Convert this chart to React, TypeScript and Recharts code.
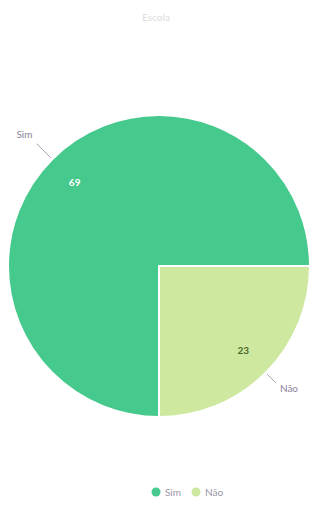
import React from 'react';
import { PieChart, Pie, Cell, Legend } from 'recharts';

const categories = ['Sim', 'Não'];
const values = [69, 23];
const colors = ['#45c98c', '#cfe8a0'];
const title = 'Escola';

const data = categories.map((name, i) => ({ name, value: values[i] }));

const RAD = Math.PI / 180;

const renderLabel = (props: any) => {
  const { cx, cy, midAngle, outerRadius, value, name, index } = props;
  const cos = Math.cos(-midAngle * RAD);
  const sin = Math.sin(-midAngle * RAD);
  const ir = outerRadius * 0.79;
  const ix = cx + ir * cos;
  const iy = cy + ir * sin;
  const sx = cx + (outerRadius + 2) * cos;
  const sy = cy + (outerRadius + 2) * sin;
  const lineR = index === 0 ? 22 : 14;
  const ex = cx + (outerRadius + lineR) * cos;
  const ey = cy + (outerRadius + lineR) * sin;
  const tx = cx + (outerRadius + lineR + 6) * cos;
  const ty = cy + (outerRadius + lineR + 8) * sin + (index === 0 ? -4 : 0);
  const anchor = cos >= 0 ? 'start' : 'end';
  return (
    <g>
      <text x={ix} y={iy} textAnchor="middle" dominantBaseline="central"
        fill={index === 0 ? '#ffffff' : '#4a6a2a'} fontSize={10} fontWeight="bold"
        fontFamily="Lato, sans-serif">{value}</text>
      <path d={`M${sx},${sy}L${ex},${ey}`} stroke="#a9a0b8" strokeWidth={1} fill="none" />
      <text x={tx} y={ty} textAnchor={anchor} dominantBaseline="central"
        fill="#8a8296" fontSize={10} fontFamily="Lato, sans-serif">{name}</text>
    </g>
  );
};

const renderLegend = () => (
  <div style={{ display: 'flex', justifyContent: 'center', gap: 10, fontFamily: 'Lato, sans-serif', fontSize: 10, color: '#9a94a6' }}>
    {categories.map((c, i) => (
      <span key={c} style={{ display: 'inline-flex', alignItems: 'center' }}>
        <svg width={10} height={10} style={{ marginRight: 4 }}>
          <circle cx={5} cy={5} r={4.5} fill={colors[i]} />
        </svg>
        {c}
      </span>
    ))}
  </div>
);

export default function App() {
  return (
    <div style={{ position: 'absolute', left: 0, top: 0, width: 312, height: 529, background: '#fff' }}>
      <div style={{ position: 'absolute', top: 11, width: 312, textAlign: 'center', fontFamily: 'Lato, sans-serif', fontSize: 10, color: '#dcdcdc' }}>{title}</div>
      <PieChart width={312} height={529}>
        <Pie
          data={data}
          dataKey="value"
          nameKey="name"
          cx={154}
          cy={261}
          outerRadius={151}
          startAngle={-90}
          endAngle={-450}
          stroke="#ffffff"
          strokeWidth={2}
          label={renderLabel}
          labelLine={false}
          isAnimationActive={false}
        >
          {data.map((d, i) => (
            <Cell key={d.name} fill={colors[i]} />
          ))}
        </Pie>
        <Legend
          content={renderLegend}
          wrapperStyle={{ left: 142, top: 486, width: 90 }}
        />
      </PieChart>
    </div>
  );
}
